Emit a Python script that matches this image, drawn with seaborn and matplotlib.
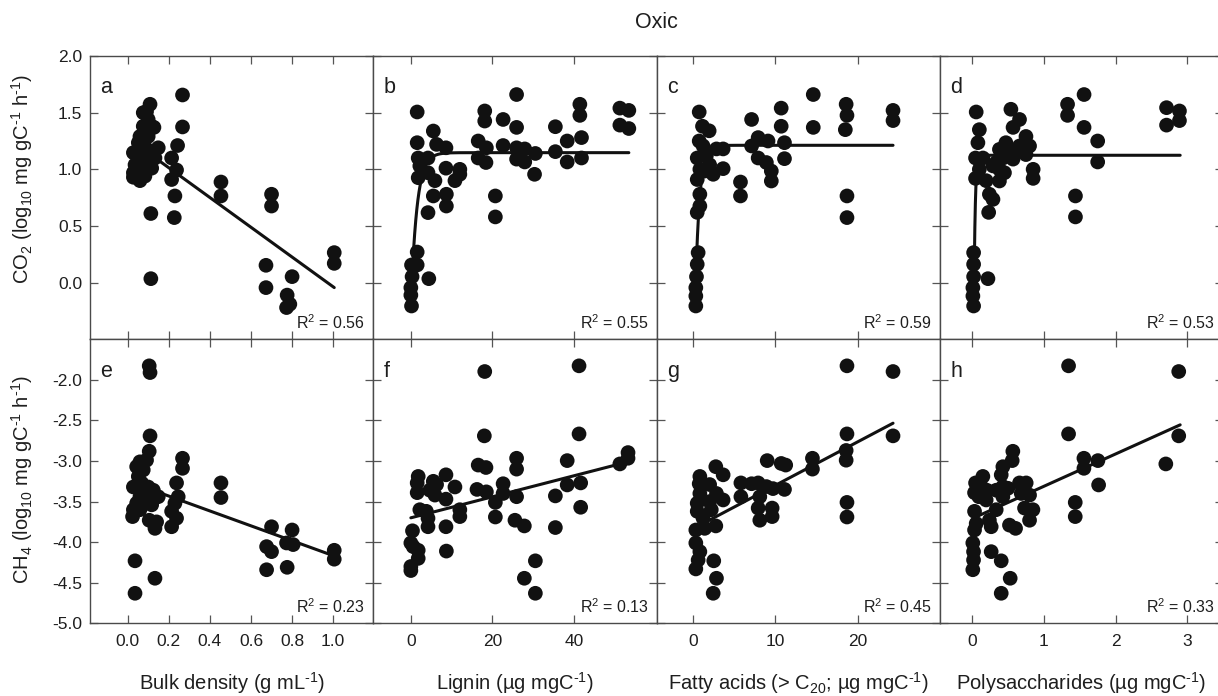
import numpy as np
import matplotlib
matplotlib.use("Agg")
import matplotlib.pyplot as plt
import seaborn as sns
from matplotlib.ticker import FixedLocator, FormatStrFormatter, NullFormatter

sns.set_style("ticks")
plt.rcParams["font.family"] = ["Liberation Sans", "DejaVu Sans"]
plt.rcParams["mathtext.fontset"] = "custom"
plt.rcParams["mathtext.rm"] = "Liberation Sans"
plt.rcParams["mathtext.it"] = "Liberation Sans:italic"
plt.rcParams["mathtext.bf"] = "Liberation Sans:bold"
plt.rcParams["mathtext.default"] = "regular"
plt.rcParams["axes.unicode_minus"] = False

# ---------------- data ----------------
# panel a: CO2 vs bulk density
a_x = [0.267, 0.267, 0.243, 0.214, 0.238, 0.214, 0.230, 0.227, 0.454, 0.454, 0.700, 0.700, 0.673, 0.673,
       0.800, 0.776, 0.789, 0.773, 1.005, 1.005, 0.113, 0.113,
       0.109, 0.092, 0.076, 0.100, 0.117, 0.128, 0.100, 0.060, 0.052, 0.028, 0.060, 0.092, 0.149, 0.133,
       0.117, 0.036, 0.028, 0.028, 0.060, 0.084, 0.060, 0.092, 0.076]
a_y = [1.656, 1.374, 1.210, 1.100, 0.994, 0.910, 0.765, 0.574, 0.888, 0.765, 0.780, 0.676, 0.153, -0.044,
       0.053, -0.110, -0.190, -0.220, 0.265, 0.170, 0.610, 0.035,
       1.574, 1.510, 1.500, 1.440, 1.380, 1.370, 1.290, 1.290, 1.235, 1.147, 1.130, 1.180, 1.190, 1.100,
       1.010, 1.040, 0.970, 0.930, 0.900, 0.940, 1.030, 1.060, 1.380]

# panel b: CO2 vs lignin
b_x = [1.55, 1.55, 5.5, 6.3, 8.6, 1.8, 4.2, 2.2, 1.8, 4.2, 5.9, 8.6, 12.0, 10.8, 12.0, 5.5, 8.7, 8.7, 4.2,
       1.55, 0.16, 1.55, 0.3, 4.4, 0.0, 0.0, 0.16,
       18.1, 18.1, 22.6, 25.9, 25.9, 16.5, 18.5, 16.5, 18.4, 22.6, 25.9, 27.9, 25.9, 27.9, 30.5, 30.3,
       20.7, 20.7, 35.4, 35.4, 38.3, 38.3, 41.4, 41.4, 41.8, 41.8, 51.2, 53.4, 51.2, 53.4]
b_y = [1.506, 1.235, 1.338, 1.22, 1.19, 1.10, 1.10, 1.03, 0.926, 0.97, 0.90, 1.01, 1.0, 0.90, 0.956, 0.765,
       0.78, 0.676, 0.618, 0.27, 0.156, 0.156, 0.053, 0.035, -0.044, -0.11, -0.206,
       1.515, 1.426, 1.44, 1.66, 1.37, 1.25, 1.19, 1.10, 1.06, 1.21, 1.19, 1.18, 1.09, 1.065, 1.14, 0.956,
       0.765, 0.58, 1.376, 1.156, 1.25, 1.065, 1.574, 1.476, 1.28, 1.10, 1.54, 1.52, 1.39, 1.36]

# panel c: CO2 vs fatty acids
c_x = [0.73, 1.13, 1.94, 0.73, 1.2, 0.49, 1.6, 2.83, 3.64, 0.81, 2.0, 2.43, 3.64, 0.49, 1.4, 0.81, 0.81,
       0.49, 0.6, 0.49, 0.4, 0.32, 0.32, 0.32,
       5.75, 5.75, 7.1, 7.1, 7.9, 9.1, 7.9, 8.9, 9.5, 9.5, 10.7, 10.7, 11.1, 11.1, 14.6, 14.6, 18.6, 18.7,
       18.5, 18.7, 18.7, 24.3, 24.3]
c_y = [1.506, 1.38, 1.34, 1.25, 1.206, 1.10, 1.12, 1.18, 1.18, 1.0, 1.04, 0.956, 1.006, 0.91, 0.985, 0.78,
       0.676, 0.62, 0.265, 0.162, 0.053, -0.044, -0.118, -0.206,
       0.888, 0.765, 1.44, 1.206, 1.28, 1.25, 1.10, 1.06, 0.985, 0.897, 1.54, 1.38, 1.235, 1.094, 1.66,
       1.37, 1.574, 1.476, 1.35, 0.765, 0.574, 1.52, 1.43]

# panel d: CO2 vs polysaccharides
d_x = [0.056, 0.10, 0.08, 0.047, 0.15, 0.10, 0.047, 0.195, 0.29, 0.24, 0.29, 0.23, 0.38, 0.47, 0.43, 0.38,
       0.38, 0.45, 0.54, 0.66, 0.57, 0.54, 0.57, 0.66, 0.75, 0.80, 0.75, 0.85, 0.85, 0.02, 0.02, 0.02,
       0.01, 0.01, 0.02, 0.22, 1.33, 1.33, 1.56, 1.56, 1.75, 1.75, 1.44, 1.44, 2.71, 2.89, 2.71, 2.89,
       0.335, 0.50, 0.71]
d_y = [1.506, 1.35, 1.235, 1.10, 1.10, 1.0, 0.92, 0.90, 1.03, 0.78, 0.735, 0.62, 1.176, 1.235, 1.10, 1.0,
       0.897, 0.97, 1.53, 1.44, 1.37, 1.15, 1.09, 1.206, 1.29, 1.206, 1.13, 1.0, 0.92, 0.265, 0.162, 0.053,
       -0.044, -0.118, -0.206, 0.035, 1.574, 1.476, 1.66, 1.37, 1.25, 1.065, 0.765, 0.58, 1.544, 1.515,
       1.39, 1.43, 1.06, 1.176, 1.176]

# panel e: CH4 vs bulk density
e_x = [0.105, 0.109, 0.109, 0.105, 0.092, 0.060, 0.044, 0.076, 0.052, 0.028, 0.068, 0.100, 0.125, 0.149,
       0.117, 0.092, 0.060, 0.044, 0.117, 0.028, 0.024, 0.060, 0.105, 0.141, 0.133, 0.036, 0.036, 0.133,
       0.267, 0.267, 0.238, 0.246, 0.230, 0.214, 0.238, 0.214, 0.454, 0.454, 0.700, 0.676, 0.700, 0.676,
       0.800, 0.773, 0.805, 0.776, 1.005, 1.005]
e_y = [-1.827, -1.91, -2.69, -2.88, -2.99, -3.01, -3.07, -3.11, -3.19, -3.32, -3.27, -3.32, -3.36, -3.44,
       -3.44, -3.48, -3.44, -3.52, -3.54, -3.60, -3.685, -3.60, -3.73, -3.75, -3.83, -4.23, -4.63, -4.445,
       -2.966, -3.09, -3.27, -3.44, -3.52, -3.62, -3.705, -3.81, -3.27, -3.45, -3.81, -4.055, -4.117,
       -4.34, -3.85, -4.01, -4.03, -4.31, -4.10, -4.21]

# panel f: CH4 vs lignin
f_x = [18.1, 41.2, 18.0, 41.2, 38.3, 25.9, 25.9, 16.5, 18.4, 16.2, 18.5, 22.6, 22.6, 25.9, 20.7, 20.7,
       25.5, 27.8, 30.5, 27.8, 30.5, 35.4, 35.4, 38.3, 41.6, 41.6, 51.2, 53.2, 53.2,
       1.8, 1.55, 1.55, 5.5, 6.3, 8.6, 10.8, 4.65, 5.9, 8.6, 2.2, 3.8, 12.0, 12.0, 4.2, 4.2, 8.6, 0.4,
       0.0, 0.57, 1.8, 1.8, 8.7, 0.0, 0.0, 5.5]
f_y = [-1.897, -1.827, -2.69, -2.666, -2.995, -2.966, -3.10, -3.05, -3.08, -3.35, -3.38, -3.28, -3.40,
       -3.44, -3.51, -3.69, -3.73, -3.80, -4.23, -4.445, -4.63, -3.43, -3.82, -3.295, -3.27, -3.57,
       -3.036, -2.896, -2.966,
       -3.19, -3.27, -3.39, -3.25, -3.29, -3.17, -3.32, -3.36, -3.42, -3.47, -3.60, -3.62, -3.60, -3.685,
       -3.705, -3.81, -3.81, -3.86, -4.01, -4.055, -4.10, -4.2, -4.11, -4.30, -4.35, -3.315]

# panel g: CH4 vs fatty acids
g_x = [18.7, 18.7, 18.6, 18.6, 18.7, 18.7, 14.5, 14.5, 10.7, 11.25, 9.0, 11.1, 5.8, 5.8, 7.1, 7.9, 8.9,
       9.7, 8.1, 7.9, 9.6, 9.6, 8.1,
       2.75, 3.64, 0.81, 0.73, 2.0, 0.81, 2.83, 3.64, 0.49, 2.0, 0.49, 2.2, 1.2, 0.32, 1.4, 2.75, 0.32,
       0.81, 0.6, 0.32, 2.5, 2.83, 2.43, 24.3, 24.3]
g_y = [-1.827, -2.666, -2.87, -2.99, -3.51, -3.69, -2.966, -3.10, -3.03, -3.05, -2.995, -3.35, -3.27,
       -3.44, -3.28, -3.27, -3.315, -3.34, -3.44, -3.58, -3.58, -3.685, -3.73,
       -3.07, -3.17, -3.19, -3.28, -3.29, -3.40, -3.40, -3.48, -3.52, -3.50, -3.62, -3.60, -3.705, -3.85,
       -3.83, -3.80, -4.01, -4.117, -4.22, -4.33, -4.23, -4.445, -4.63, -1.897, -2.69]

# panel h: CH4 vs polysaccharides
h_x = [1.344, 1.344, 0.567, 0.558, 0.428, 0.405, 0.149, 0.047, 0.126, 0.205, 0.033, 0.093, 0.195, 0.335,
       0.428, 0.498, 0.428, 0.66, 0.753, 0.684, 0.80, 0.73, 0.847, 0.80, 0.335, 0.033, 0.033, 0.056, 0.24,
       0.265, 0.52, 0.605, 0.009, 0.019, 0.019, 0.009, 0.265, 0.405, 0.53, 0.405,
       1.558, 1.558, 1.753, 1.763, 1.437, 1.437, 2.88, 2.88, 2.70]
h_y = [-1.827, -2.666, -2.88, -2.995, -3.07, -3.17, -3.19, -3.27, -3.315, -3.36, -3.39, -3.44, -3.48,
       -3.36, -3.315, -3.336, -3.44, -3.27, -3.27, -3.40, -3.42, -3.58, -3.60, -3.73, -3.60, -3.62, -3.85,
       -3.77, -3.73, -3.81, -3.79, -3.83, -4.01, -4.117, -4.22, -4.34, -4.117, -4.23, -4.445, -4.63,
       -2.966, -3.09, -2.995, -3.295, -3.51, -3.685, -1.897, -2.69, -3.036]

# fitted models
# linear: (slope, intercept, x_start, x_end)
lin_a = (-1.314, 1.277, 0.03, 1.005)
lin_e = (-0.918, -3.248, 0.03, 1.005)
lin_f = (0.01297, -3.70, 0.0, 51.4)
lin_g = (0.0535, -3.834, 0.32, 24.3)
lin_h = (0.3985, -3.71, 0.01, 2.9)
# saturating: y = plateau - amp * exp(-rate * x), (plateau, amp, rate, x_start, x_end)
sat_b = (1.147, 1.35, 0.68, 0.4, 53.4)
sat_c = (1.212, 2.19, 1.945, 0.4, 24.3)
sat_d = (1.124, 5.35, 57.0, 0.03, 2.9)

r2_values = ["0.56", "0.55", "0.59", "0.53", "0.23", "0.13", "0.45", "0.33"]
panel_letters = ["a", "b", "c", "d", "e", "f", "g", "h"]

SUPM = "$^{\u2010 1}$"  # superscript hyphen-one
x_labels = ["Bulk density (g mL" + SUPM + ")",
            "Lignin (µg mgC" + SUPM + ")",
            "Fatty acids (> C$_{20}$; µg mgC" + SUPM + ")",
            "Polysaccharides (µg mgC" + SUPM + ")"]
y_labels = ["CO$_2$ (log$_{10}$ mg gC" + SUPM + " h" + SUPM + ")",
            "CH$_4$ (log$_{10}$ mg gC" + SUPM + " h" + SUPM + ")"]
x_ticks = [[0.0, 0.2, 0.4, 0.6, 0.8, 1.0], [0, 20, 40], [0, 10, 20], [0, 1, 2, 3]]
x_fmt = ["%.1f", "%d", "%d", "%d"]
x_lims = [(-0.183, 1.195), (-9.2, 60.2), (-4.45, 30.0), (-0.45, 3.5)]
y_ticks_top = [0.0, 0.5, 1.0, 1.5, 2.0]
y_ticks_bot = [-5.0, -4.5, -4.0, -3.5, -3.0, -2.5, -2.0]
y_lims = [(-0.5, 2.0), (-5.0, -1.5)]

# ---------------- figure ----------------
W, H = 1218, 696
fig = plt.figure(figsize=(W / 100, H / 100), dpi=100)

left0 = 90.0
pw = 283.3
rows = [(56.0, 339.3), (339.3, 623.3)]

xs_all = [a_x, b_x, c_x, d_x, e_x, f_x, g_x, h_x]
ys_all = [a_y, b_y, c_y, d_y, e_y, f_y, g_y, h_y]
models = [("lin", lin_a), ("sat", sat_b), ("sat", sat_c), ("sat", sat_d),
          ("lin", lin_e), ("lin", lin_f), ("lin", lin_g), ("lin", lin_h)]

spine_col = "#4a4a4a"
txt_col = "#1e1e1e"
for idx in range(8):
    r, c = divmod(idx, 4)
    top_px, bot_px = rows[r]
    ax = fig.add_axes([(left0 + c * pw) / W, 1 - bot_px / H, pw / W, (bot_px - top_px) / H])
    kind, p = models[idx]
    if kind == "lin":
        xx = np.linspace(p[2], p[3], 100)
        yy = p[0] * xx + p[1]
    else:
        xx = np.linspace(p[3], p[4], 400)
        yy = p[0] - p[1] * np.exp(-p[2] * xx)
    sns.lineplot(x=xx, y=yy, ax=ax, color="#111111", linewidth=2.2, zorder=2,
                 estimator=None, sort=False)
    sns.scatterplot(x=xs_all[idx], y=ys_all[idx], ax=ax, color="#111111", s=112,
                    edgecolor="none", linewidth=0, legend=False, zorder=3)
    ax.set_xlim(*x_lims[c])
    ax.set_ylim(*y_lims[r])
    ax.xaxis.set_major_locator(FixedLocator(x_ticks[c]))
    ax.yaxis.set_major_locator(FixedLocator(y_ticks_top if r == 0 else y_ticks_bot))
    ax.tick_params(direction="in", top=True, right=True, length=6, width=0.9,
                   color="#555555", labelsize=12.5, labelcolor=txt_col)
    ax.tick_params(axis="x", pad=8.0)
    ax.tick_params(axis="y", pad=5.5)
    if r == 1:
        ax.xaxis.set_major_formatter(FormatStrFormatter(x_fmt[c]))
    else:
        ax.xaxis.set_major_formatter(NullFormatter())
    if c == 0:
        ax.yaxis.set_major_formatter(FormatStrFormatter("%.1f"))
    else:
        ax.yaxis.set_major_formatter(NullFormatter())
    for s in ax.spines.values():
        s.set_visible(True)
        s.set_color(spine_col)
        s.set_linewidth(1.0)
    ax.set_xlabel("")
    ax.set_ylabel("")
    ax.text(0.036, 0.925, panel_letters[idx], transform=ax.transAxes, ha="left", va="top",
            fontsize=15.5, color=txt_col)
    ax.text(0.972, 0.035, "R$^2$ = " + r2_values[idx], transform=ax.transAxes, ha="right",
            va="baseline", fontsize=11.5, color=txt_col)

# axis labels
for c in range(4):
    cx = (left0 + c * pw + pw / 2) / W
    fig.text(cx, 1 - 689.5 / H, x_labels[c], ha="center", va="baseline", fontsize=14.5,
             color=txt_col)
fig.text(22 / W, 1 - 179 / H, y_labels[0], rotation=90, ha="center", va="center",
         fontsize=14.5, color=txt_col)
fig.text(22 / W, 1 - 480 / H, y_labels[1], rotation=90, ha="center", va="center",
         fontsize=14.5, color=txt_col)
fig.text(656.7 / W, 1 - 23 / H, "Oxic", ha="center", va="center", fontsize=15.5, color=txt_col)

fig.savefig("out.png", dpi=100)
